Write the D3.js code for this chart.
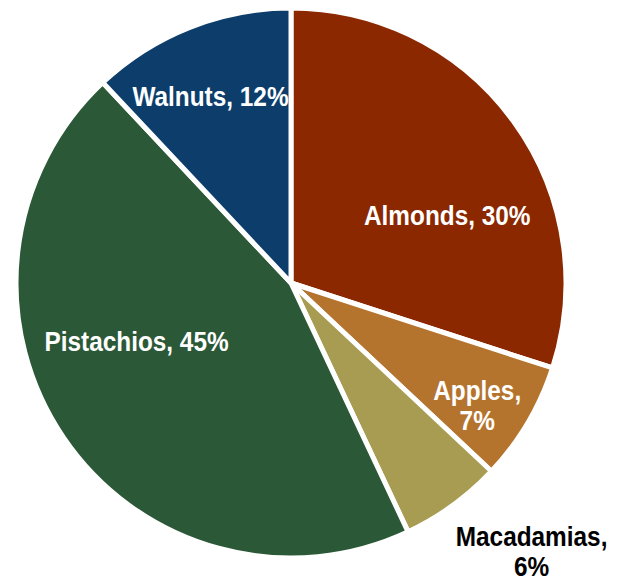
<!DOCTYPE html>
<html>
<head>
<meta charset="utf-8">
<script src="https://cdn.jsdelivr.net/npm/d3@7"></script>
<style>
  body { margin: 0; background: #fff; }
  text { font-family: "Liberation Sans Narrow", "Arial Narrow", "Liberation Sans", sans-serif; font-weight: bold; }
</style>
</head>
<body>
<script>
// slice data, clockwise from 12 o'clock
const categories = ["Almonds", "Apples", "Macadamias", "Pistachios", "Walnuts"];
const shares = [30, 7, 6, 45, 12];
const colors = ["#8b2800", "#b5742e", "#a89c52", "#2b5836", "#0c3d6b"];

const width = 618, height = 582;
const cx = 291, cy = 283, radius = 275;

const svg = d3.select("body").append("svg")
    .attr("width", width)
    .attr("height", height);

const data = categories.map((c, i) => ({ name: c, value: shares[i], color: colors[i] }));

const pie = d3.pie()
    .value(d => d.value)
    .sort(null);

const arcs = pie(data);

const arc = d3.arc()
    .innerRadius(0)
    .outerRadius(radius);

const g = svg.append("g")
    .attr("transform", `translate(${cx}, ${cy})`);

g.selectAll("path")
    .data(arcs)
    .enter()
    .append("path")
    .attr("d", arc)
    .attr("fill", d => d.data.color)
    .attr("stroke", "#fff")
    .attr("stroke-width", 5)
    .attr("stroke-linejoin", "miter");

// label placement in polar terms (degrees clockwise from top, radius factor)
const label_deg = [66.4, 123.3, 138.1, 249.4, 336.7];
const label_r = [0.62, 0.81, 1.31, 0.60, 0.74];
const label_lines = [
    ["Almonds, 30%"],
    ["Apples,", "7%"],
    ["Macadamias,", "6%"],
    ["Pistachios, 45%"],
    ["Walnuts, 12%"]
];
const label_fill = ["#fff", "#fff", "#000", "#fff", "#fff"];

const font_size = 28, line_h = 30, squeeze = 0.87;

arcs.forEach((a, i) => {
    const ang = label_deg[i] * Math.PI / 180;
    const r = radius * label_r[i];
    const x = Math.sin(ang) * r;
    const y = -Math.cos(ang) * r;
    const lines = label_lines[i];
    const t = g.append("text")
        .attr("transform", `translate(${x}, ${y}) scale(${squeeze}, 1)`)
        .attr("text-anchor", "middle")
        .attr("font-size", font_size)
        .attr("fill", label_fill[i]);
    lines.forEach((ln, j) => {
        t.append("tspan")
            .attr("x", 0)
            .attr("y", (j - (lines.length - 1) / 2) * line_h)
            .attr("dy", "0.35em")
            .text(ln);
    });
});
</script>
</body>
</html>
